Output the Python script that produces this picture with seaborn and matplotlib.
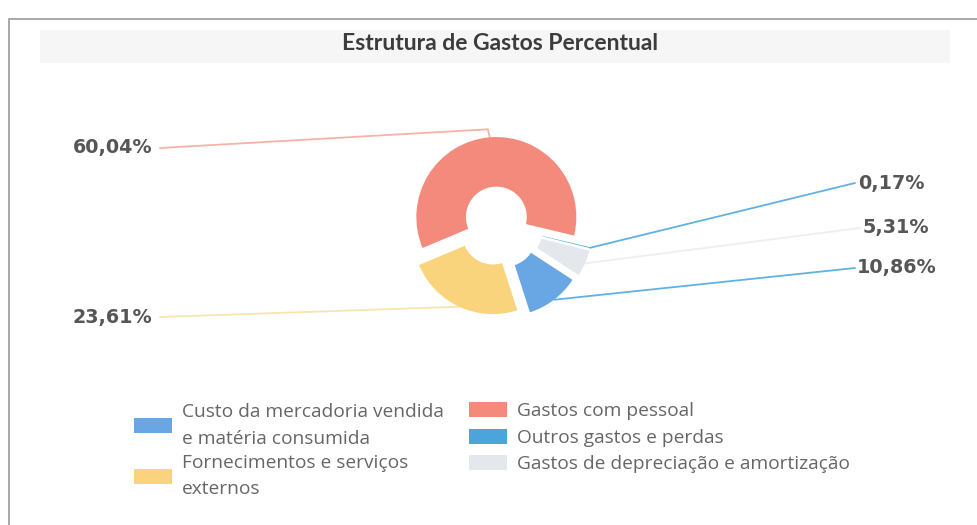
import numpy as np
import matplotlib
matplotlib.use('Agg')
import matplotlib.pyplot as plt
from matplotlib.patches import Patch, Rectangle
import seaborn as sns

# Dados (ordem das fatias no anel, sentido anti-horario)
categorias = ['Gastos com pessoal',
              'Fornecimentos e serviços\nexternos',
              'Custo da mercadoria vendida\ne matéria consumida',
              'Gastos de depreciação e amortização',
              'Outros gastos e perdas']
percentagens = [60.04, 23.61, 10.86, 5.31, 0.17]
rotulos = ['60,04%', '23,61%', '10,86%', '5,31%', '0,17%']
cores = ['#f48a7c', '#f9d47c', '#68a6e4', '#e4e7eb', '#4aa6da']
cores_linha = ['#f6b2a6', '#f8e4b0', '#5fb2e2', '#eceef0', '#5fb2e2']

# Ordem da legenda (duas colunas)
legenda_col1 = [2, 1]
legenda_col2 = [0, 4, 3]

sns.set_theme(style='white')
plt.rcParams['font.family'] = ['Open Sans', 'DejaVu Sans']

W, H = 977, 525
fig = plt.figure(figsize=(W / 100, H / 100), dpi=100)
fig.patch.set_facecolor('white')

ax = fig.add_axes([0, 0, 1, 1])
ax.set_zorder(2)
ax.patch.set_alpha(0)

# moldura e faixa do titulo
fig.patches.append(Rectangle((9 / W, -0.1), 1.2, 1 - 19 / H + 0.1, transform=fig.transFigure,
                             fill=False, edgecolor='#9a9a9a', linewidth=1.2, zorder=0))
fig.patches.append(Rectangle((40 / W, 1 - 63 / H), 910 / W, 33 / H, transform=fig.transFigure,
                             facecolor='#f6f6f6', edgecolor='none', zorder=0))

centro = (497, H - 225)
raio = 80
explosao = [8, 10, 14, 16, 16]  # em pixels

wedges, _ = ax.pie(percentagens, colors=cores, startangle=346.6, counterclock=True,
                   center=centro, radius=raio, explode=explosao,
                   wedgeprops=dict(width=raio * 0.62, linewidth=0))
ax.set_xlim(0, W)
ax.set_ylim(0, H)
ax.axis('off')

# posicoes dos rotulos (px a partir do topo)
pos_rotulos = [(73, 148), (73, 317), (857, 268), (863, 228), (858, 183)]
fim_linha = [160, 160, 855, 860, 855]

for i, w in enumerate(wedges):
    ang = np.deg2rad((w.theta1 + w.theta2) / 2)
    cx, cy = w.center
    px = cx + w.r * np.cos(ang)
    py = cy + w.r * np.sin(ang)
    tx, ty = pos_rotulos[i]
    ty = H - ty
    if i == 0:
        xs = [px, px - 2, fim_linha[i]]
        ys = [py, py + 8, ty]
    else:
        xs = [px, fim_linha[i]]
        ys = [py, ty]
    ax.plot(xs, ys, color=cores_linha[i], linewidth=1.3, solid_capstyle='round', zorder=0)
    ax.text(tx, ty, rotulos[i], ha='left', va='center', fontsize=13.8, fontweight='bold',
            family='DejaVu Sans', color='#565656')

ax.text(500, H - 44, 'Estrutura de Gastos Percentual', ha='center', va='center',
        fontsize=16.5, fontweight='bold', family='Lato', color='#3c3c3c')

def handles(idx):
    return [Patch(facecolor=cores[i], edgecolor='none', label=categorias[i]) for i in idx]

leg_kw = dict(frameon=False, fontsize=13.8, handlelength=2.0, handleheight=0.85,
              handletextpad=0.52, borderpad=0, borderaxespad=0, labelcolor='#666666')
leg1 = fig.legend(handles=handles(legenda_col1), loc='upper left',
                  bbox_to_anchor=(134 / W, 1 - 403 / H), labelspacing=0.3, **leg_kw)
leg2 = fig.legend(handles=handles(legenda_col2), loc='upper left',
                  bbox_to_anchor=(469 / W, 1 - 402 / H), labelspacing=0.43, **leg_kw)
for t in leg1.get_texts():
    t.set_linespacing(1.63)

fig.savefig('out.png', dpi=100, facecolor='white')
